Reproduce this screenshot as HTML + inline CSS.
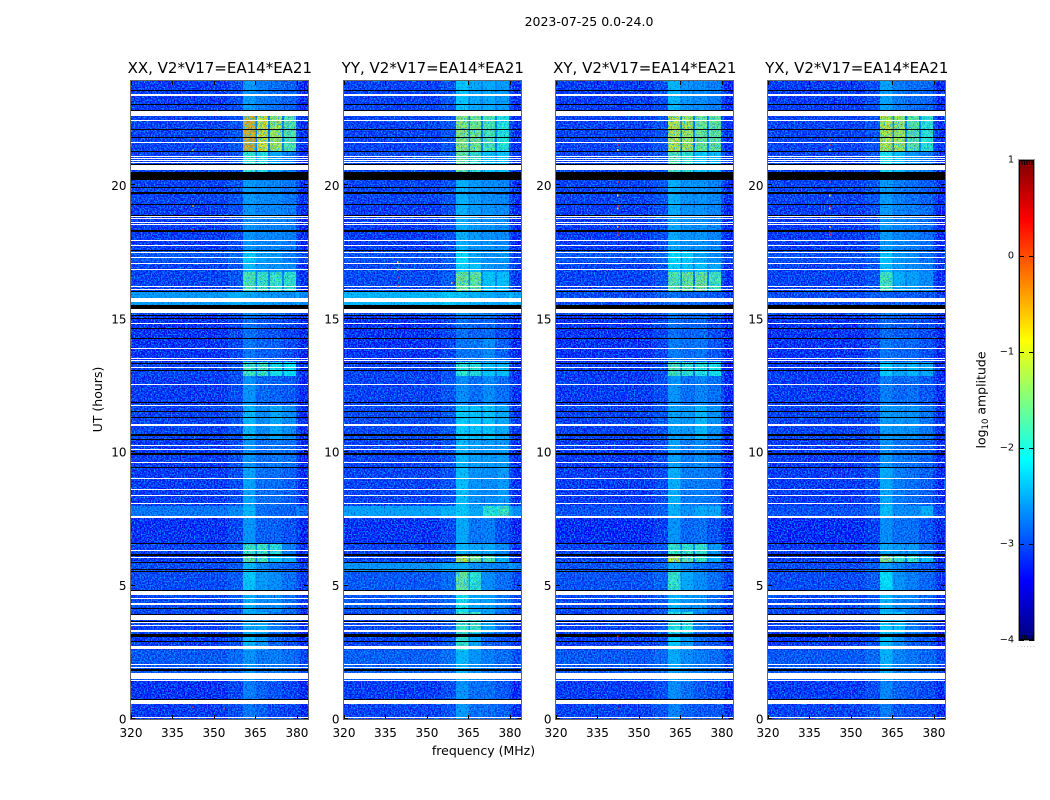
<!DOCTYPE html>
<html lang="en">
<head>
<meta charset="utf-8">
<title>2023-07-25 0.0-24.0</title>
<style>
html,body{margin:0;padding:0;background:#fff;}
#chart{display:block;width:1050px;height:800px;background:#fff;font-family:"DejaVu Sans","Liberation Sans",sans-serif;}
</style>
</head>
<body>
<svg id="chart" xmlns="http://www.w3.org/2000/svg" width="1050" height="800" viewBox="0 0 1050 800">
  <text x="589" y="26" text-anchor="middle" font-size="12.500">2023-07-25 0.0-24.0</text>
  <text x="483.500" y="755" text-anchor="middle" font-size="12.500">frequency (MHz)</text>
  <text x="0" y="0" transform="translate(102,399.500) rotate(-90)" text-anchor="middle" font-size="12.500">UT (hours)</text>
  <text x="0" y="0" transform="translate(985.500,400) rotate(-90)" text-anchor="middle" font-size="12.500">log<tspan font-size="8.500" dy="2.500">10</tspan><tspan dy="-2.500"> amplitude</tspan></text>
  <text x="1017" y="647" font-size="6" letter-spacing="1.300" fill="#888">......</text>
  <defs>
    <filter id="grain-light" x="0" y="0" width="1" height="1" color-interpolation-filters="sRGB">
      <feTurbulence type="fractalNoise" baseFrequency="0.7" numOctaves="1" seed="3"/>
      <feColorMatrix type="matrix" values="0 0 0 0 0  0 0 0 0 0.65  0 0 0 0 1  3.6 0 0 0 -1.6"/>
    </filter>
    <filter id="grain-dark" x="0" y="0" width="1" height="1" color-interpolation-filters="sRGB">
      <feTurbulence type="fractalNoise" baseFrequency="0.7" numOctaves="1" seed="3"/>
      <feColorMatrix type="matrix" values="0 0 0 0 0  0 0 0 0 0  0 0 0 0 0.55  -2.4 0 0 0 1.1"/>
    </filter>
  </defs>
  <g id="panels"></g>
  <g id="colorbar"></g>
</svg>
<script>
// ---- Chart data ----
const panelTitles = ["XX, V2*V17=EA14*EA21", "YY, V2*V17=EA14*EA21", "XY, V2*V17=EA14*EA21", "YX, V2*V17=EA14*EA21"];
const xTicks = [320, 335, 350, 365, 380];
const yTicks = [0, 5, 10, 15, 20];
const colorTicks = [1, 0, -1, -2, -3, -4];

// Time-band edges (UT hours), bottom to top
const bandEdges = [0, 0.71, 1.47, 2.60, 3.24, 4.02, 4.81, 5.53, 5.87, 6.20, 6.58, 7.59, 8.01, 9.47, 10.50, 11.81, 12.90, 13.43, 14.33, 15.20, 15.57, 16.06, 16.81, 17.19, 17.64, 19.34, 20.28, 21.33, 22.69, 24];

// log10 amplitude per band: [background, block A, block B, block C, block D]
const ampXX = [
[-3.25,-2.85,-3.0,-3.15,-3.2],[-3.3,-2.8,-3.0,-3.1,-3.2],[-3.05,-2.65,-2.85,-2.8,-2.9],[-3.25,-2.4,-2.6,-3.0,-3.1],
[-3.2,-2.5,-2.5,-2.8,-3.0],[-3.15,-2.45,-2.7,-2.7,-2.9],[-3.15,-2.3,-2.6,-2.7,-2.9],[-3.15,-2.4,-2.7,-2.9,-3.0],
[-3.25,-1.55,-1.7,-2.3,-2.5],[-3.2,-1.75,-1.75,-1.85,-2.8],[-3.3,-2.65,-3.0,-3.0,-3.1],[-2.85,-2.4,-2.9,-2.95,-3.0],
[-3.25,-2.55,-2.9,-2.9,-3.0],[-3.25,-2.65,-2.9,-2.85,-2.9],[-3.2,-2.4,-2.7,-2.5,-2.7],[-3.25,-2.65,-2.95,-3.0,-3.05],
[-3.2,-1.75,-1.75,-2.0,-2.1],[-3.3,-2.85,-3.0,-3.0,-3.15],[-3.3,-2.9,-3.05,-3.1,-3.2],[-3.15,-2.7,-2.8,-2.9,-3.0],
[-2.6,-2.5,-2.6,-2.65,-2.7],[-3.2,-1.65,-1.75,-1.75,-1.8],[-3.2,-2.35,-2.6,-2.65,-2.7],[-3.05,-2.25,-2.55,-2.6,-2.8],
[-3.25,-2.65,-2.75,-2.75,-2.8],[-3.2,-2.6,-2.7,-2.75,-2.85],[-3.2,-1.8,-1.9,-2.5,-2.8],[-3.2,-0.55,-0.85,-1.15,-1.6],
[-3.25,-2.6,-2.8,-2.9,-3.0]];
const ampYY = [
[-3.2,-2.6,-2.9,-2.9,-3.0],[-3.25,-2.65,-2.9,-2.9,-3.05],[-3.0,-2.4,-2.65,-2.8,-2.9],[-3.2,-1.8,-2.5,-3.0,-3.1],
[-3.15,-1.75,-1.75,-2.5,-2.9],[-3.05,-2.0,-2.5,-2.55,-2.8],[-3.05,-1.5,-1.85,-2.7,-2.9],[-2.65,-2.5,-2.65,-2.75,-2.8],
[-3.2,-1.0,-1.45,-1.65,-2.4],[-3.2,-2.4,-2.5,-2.5,-2.7],[-3.3,-2.5,-2.85,-2.8,-3.1],[-2.55,-2.3,-2.5,-1.85,-1.75],
[-3.2,-2.35,-2.65,-2.7,-2.6],[-3.2,-2.4,-2.55,-2.6,-2.6],[-3.15,-2.25,-2.3,-2.3,-2.5],[-3.2,-2.7,-2.9,-2.7,-2.9],
[-3.2,-1.85,-1.9,-2.3,-2.35],[-3.3,-2.85,-2.85,-2.7,-3.0],[-3.3,-2.9,-3.0,-2.95,-3.15],[-3.1,-2.6,-2.7,-2.8,-2.95],
[-2.4,-2.35,-2.45,-2.5,-2.55],[-3.15,-1.45,-1.5,-2.3,-2.35],[-3.15,-2.2,-2.3,-2.6,-2.7],[-3.1,-2.15,-2.5,-2.65,-2.6],
[-3.25,-2.45,-2.6,-2.65,-2.7],[-3.2,-2.45,-2.6,-2.7,-2.75],[-3.15,-1.5,-1.8,-2.3,-2.3],[-3.2,-1.3,-1.4,-1.65,-1.9],
[-3.2,-2.3,-2.5,-2.5,-2.6]];
const ampXY = [
[-3.2,-2.75,-3.0,-3.05,-3.05],[-3.25,-2.7,-2.9,-3.05,-3.15],[-3.05,-2.5,-2.7,-2.8,-2.9],[-3.25,-2.25,-2.6,-3.0,-3.1],
[-3.2,-1.9,-1.9,-2.8,-3.0],[-3.15,-2.4,-2.6,-2.65,-2.9],[-3.1,-1.8,-2.5,-2.7,-2.9],[-3.1,-2.5,-2.7,-2.9,-3.0],
[-3.2,-1.1,-1.55,-1.8,-2.5],[-3.2,-1.8,-1.8,-1.8,-2.6],[-3.35,-2.65,-2.95,-2.9,-3.1],[-3.1,-2.45,-2.65,-2.5,-2.5],
[-3.25,-2.45,-2.8,-2.8,-2.85],[-3.25,-2.55,-2.8,-2.7,-2.85],[-3.2,-2.55,-2.6,-2.4,-2.65],[-3.25,-2.65,-2.9,-2.75,-2.9],
[-3.25,-1.7,-1.85,-1.9,-2.0],[-3.3,-2.8,-2.9,-2.85,-3.05],[-3.3,-2.9,-3.0,-2.95,-3.15],[-3.15,-2.75,-2.85,-2.9,-3.0],
[-3.15,-2.9,-3.0,-3.0,-3.05],[-3.2,-1.6,-1.45,-1.45,-1.7],[-3.2,-2.2,-2.3,-2.3,-2.5],[-3.05,-2.15,-2.25,-2.5,-2.7],
[-3.25,-2.5,-2.65,-2.65,-2.75],[-3.2,-2.45,-2.65,-2.65,-2.75],[-3.2,-1.65,-1.85,-2.25,-2.35],[-3.2,-1.0,-1.15,-1.45,-1.5],
[-3.25,-2.4,-2.65,-2.7,-2.8]];
const ampYX = [
[-3.2,-2.8,-3.05,-3.1,-3.15],[-3.25,-2.75,-3.0,-3.05,-3.15],[-3.05,-2.45,-2.75,-2.85,-2.95],[-3.25,-2.35,-2.7,-3.0,-3.1],
[-3.2,-2.3,-2.35,-2.8,-3.0],[-3.15,-2.4,-2.7,-2.75,-2.95],[-3.15,-2.15,-2.65,-2.8,-2.95],[-3.15,-2.6,-2.8,-2.95,-3.05],
[-3.25,-1.3,-1.8,-1.85,-2.35],[-3.25,-2.5,-2.6,-2.6,-2.9],[-3.35,-2.7,-2.9,-2.9,-3.1],[-3.1,-2.35,-2.7,-2.7,-2.45],
[-3.25,-2.5,-2.8,-2.9,-3.0],[-3.25,-2.65,-2.85,-2.9,-3.0],[-3.2,-2.6,-2.65,-2.65,-2.85],[-3.25,-2.8,-2.95,-2.9,-3.05],
[-3.25,-2.25,-2.5,-2.4,-2.5],[-3.3,-2.85,-2.95,-2.95,-3.1],[-3.3,-2.95,-3.05,-3.05,-3.15],[-3.15,-2.8,-2.9,-2.95,-3.05],
[-3.15,-3.0,-3.05,-3.05,-3.1],[-3.2,-1.7,-2.45,-2.55,-2.7],[-3.2,-2.35,-2.6,-2.7,-2.8],[-3.1,-2.3,-2.6,-2.7,-2.9],
[-3.25,-2.6,-2.75,-2.8,-2.9],[-3.2,-2.6,-2.8,-2.9,-3.0],[-3.2,-2.0,-2.3,-2.6,-2.8],[-3.2,-1.05,-1.15,-1.55,-1.85],
[-3.25,-2.55,-2.8,-2.9,-2.95]];

// Frequency edges (MHz) of the cells across each band
const freqEdges = [320, 355, 360.5, 365, 365.6, 369.6, 370.3, 374.6, 375.3, 379.6, 381, 384];

// Flagged (blank) integrations, [from, to] in UT hours
const flaggedRows = [[0.04,0.08],[0.56,0.71],[1.43,1.47],[1.50,1.73],[1.92,1.96],[2.03,2.07],[2.63,2.76],[3.27,3.35],[3.50,3.54],[3.61,3.65],[3.72,3.91],[4.29,4.36],[4.51,4.55],[4.68,4.80],[6.06,6.09],[6.32,6.36],[7.56,7.64],[8.09,8.13],[8.39,8.43],[8.62,8.65],[9.03,9.07],[9.63,9.67],[10.12,10.16],[10.27,10.31],[11.02,11.10],[11.78,11.81],[12.57,12.60],[13.20,13.24],[13.45,13.49],[13.54,13.58],[13.92,13.96],[14.86,14.90],[15.29,15.42],[15.69,15.84],[16.14,16.18],[16.25,16.29],[16.89,16.93],[17.12,17.15],[17.34,17.38],[17.53,17.57],[17.79,17.83],[17.98,18.02],[18.58,18.62],[18.66,18.70],[18.81,18.85],[18.89,18.92],[20.66,20.83],[20.92,20.95],[20.99,21.03],[21.07,21.10],[21.14,21.18],[21.67,21.71],[22.49,22.52],[22.69,22.88],[23.44,23.52]];

// Very low amplitude integrations, [from, to] in UT hours
const darkRows = [[0.71,0.75],[1.81,1.88],[2.90,2.93],[3.08,3.20],[3.65,3.69],[3.91,3.95],[4.14,4.18],[4.35,4.38],[4.82,4.85],[5.53,5.57],[5.62,5.66],[5.87,5.91],[6.15,6.19],[6.58,6.62],[9.44,9.48],[9.93,10.01],[10.48,10.52],[10.65,10.72],[11.32,11.36],[11.53,11.57],[11.89,11.93],[13.09,13.13],[13.36,13.41],[14.30,14.33],[14.67,14.71],[15.05,15.09],[15.16,15.20],[15.44,15.59],[16.06,16.10],[17.61,17.64],[18.32,18.40],[18.92,18.96],[19.34,19.37],[19.75,19.83],[19.96,20.03],[20.29,20.58],[20.84,20.88],[21.33,21.37],[21.86,21.90],[22.14,22.18],[22.87,22.91],[23.10,23.14],[23.63,23.66]];

// Isolated hot channels: [frequency MHz, UT hours, log10 amplitude]
const spotsXX = [[342.4,21.8,0.1],[342.4,21.4,-0.9],[342.4,19.3,-0.7],[342.4,18.4,0.2],[353.5,0.4,0.1],[342.4,0.45,0.2]];
const spotsYY = [[339.5,17.2,-0.8],[339.5,16.9,-0.8],[339.5,16.6,0.2],[339.5,16.3,0.2],[359,16.4,-0.6]];
const spotsXY = [[342.3,21.8,0.2],[342.3,21.6,0.1],[342.3,21.4,-1.1],[342.3,20.2,0.1],[342.3,19.7,-0.9],[342.3,19.3,0.3],[342.3,19.2,-0.7],[342.3,18.5,-0.5],[342.3,18.3,0.3],[342.3,18.2,0.1],[342.3,3.1,0.2],[342.3,0.4,0.3]];
const spotsYX = [[342.3,21.8,0.2],[342.3,21.6,0.1],[342.3,21.4,-1.4],[342.3,20.2,0.1],[342.3,19.7,-0.9],[342.3,19.3,0.3],[342.3,19.2,-0.7],[342.3,18.5,-0.5],[342.3,18.3,0.3],[342.3,18.2,0.1],[342.3,3.1,0.2],[342.3,0.4,0.3]];

const panelAmps = [ampXX, ampYY, ampXY, ampYX];
const panelSpots = [spotsXX, spotsYY, spotsXY, spotsYX];

// ---- Layout ----
const panelLefts = [131, 344, 556, 768];
const panelWidth = 177, axisTop = 81, axisBottom = 719;
const cbar = {x: 1019, w: 15, top: 160, bottom: 640, min: -4, max: 1};
const NS = "http://www.w3.org/2000/svg";

function make(tag, attrs, parent) {
  const e = document.createElementNS(NS, tag);
  for (const k in attrs) e.setAttribute(k, attrs[k]);
  parent.appendChild(e);
  return e;
}
function xScale(left, f) { return left + (f - 320) / 64 * panelWidth; }
function yScale(ut) { return axisBottom - ut / 24 * (axisBottom - axisTop); }
function yTickScale(ut) { return axisBottom - ut * 26.68; }
function cbarY(v) { return cbar.bottom - (v - cbar.min) / (cbar.max - cbar.min) * (cbar.bottom - cbar.top); }
function jet(v) {
  const t = Math.min(1, Math.max(0, (v - cbar.min) / (cbar.max - cbar.min)));
  const c = a => Math.round(255 * Math.min(1, Math.max(0, 1.5 - Math.abs(4 * t - a))));
  return "rgb(" + c(3) + "," + c(2) + "," + c(1) + ")";
}
function rowAttrs(left, r, fill) {
  const top = Math.round(yScale(r[1]));
  const bottom = Math.round(yScale(r[0]));
  return {x: left, y: top, width: panelWidth, height: Math.max(1, bottom - top), fill: fill};
}

// Panels
const panelsGroup = document.getElementById("panels");
panelLefts.forEach((left, p) => {
  const g = make("g", {}, panelsGroup);
  
  

  const cells = make("g", {"shape-rendering": "crispEdges"}, g);
  
  

  panelAmps[p].forEach((row, b) => {
    const bg = row[0], A = row[1], B = row[2], C = row[3], D = row[4];
    const gapLevel = bg + 0.45;
    const levels = [bg, bg + 0.12, A, Math.min(Math.min(A, B), gapLevel), B, Math.min(Math.min(B, C), gapLevel), C, Math.min(Math.min(C, D), gapLevel), D, bg + 0.08, bg - 0.12];
    levels.forEach((lv, c) => {
      const x0 = xScale(left, freqEdges[c]), x1 = xScale(left, freqEdges[c + 1]);
      const y0 = yScale(bandEdges[b + 1]), y1 = yScale(bandEdges[b]);
      const cell = make("rect", {x: x0, y: y0, width: x1 - x0, height: y1 - y0, fill: jet(lv)}, cells);
      
      
    });
  });

  const grainLight = make("rect", {x: left, y: axisTop, width: panelWidth, height: axisBottom - axisTop, filter: "url(#grain-light)"}, g);
  
  
  const grainDark = make("rect", {x: left, y: axisTop, width: panelWidth, height: axisBottom - axisTop, filter: "url(#grain-dark)"}, g);
  
  

  const rows = make("g", {"shape-rendering": "crispEdges"}, g);
  darkRows.forEach(r => {
    const dark = make("rect", rowAttrs(left, r, "#000"), rows);
    
    
  });
  flaggedRows.forEach(r => {
    const fl = make("rect", rowAttrs(left, r, "#fff"), rows);
    
    
  });

  panelSpots[p].forEach(s => {
    const spot = make("rect", {x: xScale(left, s[0]) - 0.7, y: yScale(s[1]) - 1, width: 1.4, height: 2, fill: jet(s[2]), "shape-rendering": "crispEdges"}, g);
    
    
  });

  const frame = make("rect", {x: left - 0.5, y: axisTop - 0.5, width: panelWidth + 1, height: axisBottom - axisTop + 1, fill: "none", stroke: "#666", "stroke-width": 1}, g);
  
  

  xTicks.forEach(t => {
    const x = Math.round(xScale(left, t)) + 0.5;
    make("line", {x1: x, x2: x, y1: axisBottom, y2: axisBottom - 4, stroke: "#000", "stroke-width": 1}, g);
    make("line", {x1: x, x2: x, y1: axisTop, y2: axisTop + 4, stroke: "#000", "stroke-width": 1}, g);
    const label = make("text", {x: xScale(left, t), y: 737, "text-anchor": "middle", "font-size": 12}, g);
    label.textContent = String(t);
    
    
  });
  yTicks.forEach(t => {
    const y = Math.round(yTickScale(t)) - 0.5;
    make("line", {x1: left, x2: left + 4, y1: y, y2: y, stroke: "#000", "stroke-width": 1}, g);
    make("line", {x1: left + panelWidth, x2: left + panelWidth - 4, y1: y, y2: y, stroke: "#000", "stroke-width": 1}, g);
    const label = make("text", {x: left - 4.5, y: yTickScale(t) + 4.5, "text-anchor": "end", "font-size": 12}, g);
    label.textContent = String(t);
    
    
  });

  const title = make("text", {x: left + panelWidth / 2 + 0.3, y: 73, "text-anchor": "middle", "font-size": 15}, g);
  title.textContent = panelTitles[p];
  
  
});

// Colorbar
const cb = document.getElementById("colorbar");
const ramp = make("g", {"shape-rendering": "crispEdges"}, cb);


for (let y = cbar.top; y < cbar.bottom; y += 2) {
  const v = cbar.max - (y + 1 - cbar.top) / (cbar.bottom - cbar.top) * (cbar.max - cbar.min);
  make("rect", {x: cbar.x, y: y, width: cbar.w, height: 2, fill: jet(v)}, ramp);
}
make("rect", {x: cbar.x - 0.5, y: cbar.top - 0.5, width: cbar.w + 1, height: cbar.bottom - cbar.top + 1, fill: "none", stroke: "#999", "stroke-width": 1}, cb);
make("rect", {x: cbar.x + 0.5, y: cbar.top + 0.5, width: cbar.w - 1, height: cbar.bottom - cbar.top - 1, fill: "none", stroke: "#000", "stroke-width": 1}, cb);
colorTicks.forEach(t => {
  const y = Math.round(cbarY(t)) + 0.5;
  make("line", {x1: cbar.x, x2: cbar.x + 5, y1: y, y2: y, stroke: "#000"}, cb);
  make("line", {x1: cbar.x + cbar.w - 5, x2: cbar.x + cbar.w, y1: y, y2: y, stroke: "#000"}, cb);
  const label = make("text", {x: cbar.x - 5, y: cbarY(t) + 2.5, "text-anchor": "end", "font-size": 9.7}, cb);
  label.textContent = t < 0 ? "\u2212" + Math.abs(t) : String(t);
  
  
});
for (let i = 1; i < 6; i++) {
  const x = cbar.x + i * cbar.w / 6 + 0.5;
  make("line", {x1: x, x2: x, y1: cbar.top, y2: cbar.top + 5, stroke: "#000"}, cb);
  make("line", {x1: x, x2: x, y1: cbar.bottom, y2: cbar.bottom - 5, stroke: "#000"}, cb);
}
</script>
</body>
</html>
